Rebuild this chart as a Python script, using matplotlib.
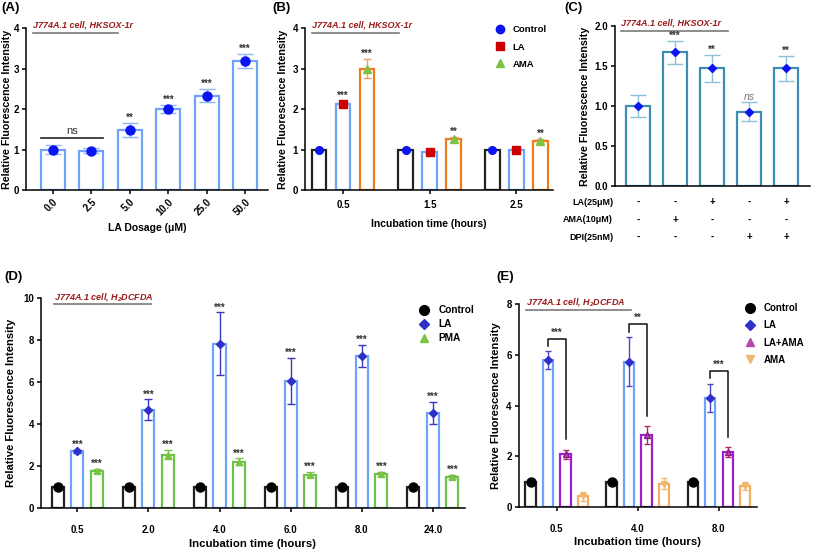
import numpy as np
import matplotlib.pyplot as plt
from matplotlib.transforms import blended_transform_factory

plt.rcParams['font.family'] = ['Liberation Sans', 'DejaVu Sans']
plt.rcParams['font.weight'] = 'bold'
plt.rcParams['axes.labelweight'] = 'bold'
plt.rcParams['axes.linewidth'] = 1.1
plt.rcParams['xtick.major.width'] = 1.1
plt.rcParams['ytick.major.width'] = 1.1
plt.rcParams['xtick.major.size'] = 3
plt.rcParams['ytick.major.size'] = 3
plt.rcParams['xtick.labelsize'] = 7
plt.rcParams['ytick.labelsize'] = 7

# (A) LA dose response
a_doses = ['0.0', '2.5', '5.0', '10.0', '25.0', '50.0']
a_mean = [1.0, 0.97, 1.49, 2.0, 2.33, 3.19]
a_err = [0.1, 0.06, 0.17, 0.1, 0.16, 0.18]
a_sig = ['', '', '**', '***', '***', '***']

# (B) time course, HKSOX-1r
b_times = ['0.5', '1.5', '2.5']
b_control = [1.0, 1.0, 1.0]
b_control_err = [0.03, 0.03, 0.04]
b_la = [2.12, 0.93, 0.99]
b_la_err = [0.08, 0.05, 0.05]
b_ama = [3.0, 1.25, 1.21]
b_ama_err = [0.23, 0.07, 0.06]
b_la_sig = ['***', '', '']
b_ama_sig = ['***', '**', '**']

# (C) inhibitor combos
c_mean = [1.0, 1.67, 1.47, 0.93, 1.47]
c_err = [0.14, 0.14, 0.17, 0.12, 0.16]
c_sig = ['', '***', '**', 'ns', '**']
c_rows = ['LA(25μM)', 'AMA(10μM)', 'DPI(25nM)']
c_la = ['-', '-', '+', '-', '+']
c_ama = ['-', '+', '-', '-', '-']
c_dpi = ['-', '-', '-', '+', '+']

# (D) time course, H2DCFDA
d_times = ['0.5', '2.0', '4.0', '6.0', '8.0', '24.0']
d_control = [1.0, 1.0, 1.0, 1.0, 1.0, 1.0]
d_la = [2.7, 4.67, 7.83, 6.05, 7.25, 4.52]
d_la_err = [0.07, 0.5, 1.48, 1.08, 0.52, 0.53]
d_pma = [1.75, 2.53, 2.21, 1.58, 1.62, 1.47]
d_pma_err = [0.1, 0.22, 0.15, 0.12, 0.1, 0.1]

# (E) LA vs LA+AMA
e_times = ['0.5', '4.0', '8.0']
e_control = [1.0, 1.0, 1.0]
e_la = [5.8, 5.73, 4.3]
e_la_err = [0.34, 0.97, 0.57]
e_laama = [2.09, 2.83, 2.17]
e_laama_err = [0.18, 0.36, 0.2]
e_ama = [0.43, 0.93, 0.83]
e_ama_err = [0.17, 0.2, 0.17]
e_sig = ['***', '**', '***']

DARKRED = '#9b1b1b'
LIGHTBLUE = '#6fa3f7'


def style(ax):
    ax.spines['top'].set_visible(False)
    ax.spines['right'].set_visible(False)
    ax.tick_params(direction='out', pad=2)


def tag(ax, txt, x1, ytxt=1.02):
    # cell line / probe label with grey underline
    ax.text(0.03, ytxt, txt, transform=ax.transAxes, color=DARKRED,
            fontsize=6.5, style='italic', weight='bold', va='center')
    ax.plot([0.03, x1], [0.97, 0.97], transform=ax.transAxes,
            color='#7a7a7a', lw=1.2, clip_on=False)


def bars(ax, x, h, err, w, edge, mk, mcol, ecol, ms, cap, sig=None,
         mec=None, fs=7, lw=1.6):
    ax.bar(x, h, w, facecolor='white', edgecolor=edge, linewidth=lw, zorder=2)
    ax.errorbar(x, h, yerr=err, fmt='none', ecolor=ecol, elinewidth=1.0,
                capsize=cap, capthick=1.0, zorder=3)
    ax.plot(x, h, mk, color=mcol, ms=ms, mec=mec if mec else mcol,
            ls='none', zorder=4)
    if sig:
        for xi, hi, ei, s in zip(x, h, err, sig):
            if s:
                ax.text(xi, hi + ei, s, ha='center', va='bottom',
                        fontsize=fs, color='#333333')


fig = plt.figure(figsize=(8.13, 5.5), dpi=100)

# ---------------- (A)
axA = fig.add_axes([0.032, 0.6545, 0.298, 0.2945])
style(axA)
xa = np.arange(len(a_doses))
bars(axA, xa, a_mean, a_err, 0.62, LIGHTBLUE, 'o', '#0a14f0', '#8fb6f7',
     6.5, 6, a_sig)
axA.plot([xa[0] - 0.3, xa[1] + 0.3], [1.28, 1.28], color='#222222', lw=1.2)
axA.text((xa[0] + xa[1]) / 2, 1.33, 'ns', ha='center', va='bottom',
         fontsize=8, weight='normal', color='#333333')
axA.set_xlim(-0.7, 5.6)
axA.set_ylim(0, 4)
axA.set_yticks([0, 1, 2, 3, 4])
axA.set_xticks(xa)
axA.set_xticklabels(a_doses, rotation=45, ha='right', rotation_mode='anchor')
axA.set_xlabel('LA Dosage (μM)', fontsize=7.5, labelpad=4)
axA.set_ylabel('Relative Fluorescence Intensity', fontsize=7.7, labelpad=1)
tag(axA, 'J774A.1 cell, HKSOX-1r', 0.38)

# ---------------- (B)
axB = fig.add_axes([0.375, 0.6545, 0.305, 0.2945])
style(axB)
xb = np.arange(len(b_times))
off = 0.276
bw = 0.17
bars(axB, xb - off, b_control, b_control_err, bw, '#222222', 'o', '#0a14f0',
     '#999999', 5.5, 3)
bars(axB, xb, b_la, b_la_err, bw, LIGHTBLUE, 's', '#cc0000', '#8fb6f7',
     5.5, 3, b_la_sig)
bars(axB, xb + off, b_ama, b_ama_err, bw, '#ef7c1a', '^', '#7cc243',
     '#f0a060', 5.5, 3, b_ama_sig)
axB.set_xlim(-0.44, 2.42)
axB.set_ylim(0, 4)
axB.set_yticks([0, 1, 2, 3, 4])
axB.set_xticks(xb)
axB.set_xticklabels(b_times)
axB.tick_params(axis='x', pad=4)
axB.set_xlabel('Incubation time (hours)', fontsize=7.5, labelpad=7)
axB.set_ylabel('Relative Fluorescence Intensity', fontsize=7.7, labelpad=3)
tag(axB, 'J774A.1 cell, HKSOX-1r', 0.38)
hB = [axB.plot([], [], m, color=c, ms=6, ls='none')[0]
      for m, c in [('o', '#0a14f0'), ('s', '#cc0000'), ('^', '#7cc243')]]
axB.legend(hB, ['Control', 'LA', 'AMA'], loc='upper left',
           bbox_to_anchor=(0.75, 1.045), frameon=False, fontsize=6.8,
           handlelength=1.0, handletextpad=0.8, labelspacing=0.85,
           borderpad=0)

# ---------------- (C)
axC = fig.add_axes([0.7565, 0.6618, 0.24, 0.291])
style(axC)
xc = np.arange(len(c_mean))
bars(axC, xc, c_mean, c_err, 0.63, '#3e8db3', 'D', '#0a14f0', '#8cc0d8',
     4.5, 5.5)
for xi, hi, ei, s in zip(xc, c_mean, c_err, c_sig):
    if s == 'ns':
        axC.text(xi, hi + ei, s, ha='center', va='bottom', fontsize=7.5,
                 style='italic', weight='normal', color='#777777')
    elif s:
        axC.text(xi, hi + ei, s, ha='center', va='bottom', fontsize=7,
                 color='#333333')
axC.set_xlim(-0.62, 4.65)
axC.set_ylim(0, 2.0)
axC.set_yticks([0, 0.5, 1.0, 1.5, 2.0])
axC.set_yticklabels(['0.0', '0.5', '1.0', '1.5', '2.0'])
axC.set_xticks([])
axC.set_ylabel('Relative Fluorescence Intensity', fontsize=7.7, labelpad=3)
tag(axC, 'J774A.1 cell, HKSOX-1r', 0.58)
trC = blended_transform_factory(axC.transData, axC.transAxes)
for row, signs, yy in zip(c_rows, [c_la, c_ama, c_dpi], [-0.1, -0.21, -0.32]):
    axC.text(-0.01, yy, row, transform=axC.transAxes, ha='right',
             va='center', fontsize=6.5)
    for xi, s in zip(xc, signs):
        axC.text(xi, yy, s, transform=trC, ha='center', va='center',
                 fontsize=7)

# ---------------- (D)
axD = fig.add_axes([0.0504, 0.0764, 0.5215, 0.3818])
style(axD)
xd = np.arange(len(d_times))
off = 0.274
bw = 0.17
bars(axD, xd - off, d_control, [0] * len(xd), bw, '#222222', 'o', 'black',
     'black', 6.5, 0)
bars(axD, xd, d_la, d_la_err, bw, LIGHTBLUE, 'D', '#3030c8', '#3838c0',
     4.5, 3, ['***'] * len(xd))
bars(axD, xd + off, d_pma, d_pma_err, bw, '#6cc24a', '^', '#7cc243',
     '#7cc243', 5, 3, ['***'] * len(xd))
axD.set_xlim(-0.51, 5.45)
axD.set_ylim(0, 10)
axD.set_yticks([0, 2, 4, 6, 8, 10])
axD.set_xticks(xd)
axD.set_xticklabels(d_times)
axD.tick_params(axis='x', pad=9)
axD.set_xlabel('Incubation time (hours)', fontsize=8.2, labelpad=3)
axD.set_ylabel('Relative Fluorescence Intensity', fontsize=8.1, labelpad=5)
tag(axD, 'J774A.1 cell, H$_\\mathregular{2}$DCFDA', 0.26, ytxt=1.005)
hD = [axD.plot([], [], m, color=c, ms=ms, ls='none')[0]
      for m, c, ms in [('o', 'black', 7), ('D', '#3030c8', 5),
                       ('^', '#7cc243', 6)]]
axD.legend(hD, ['Control', 'LA', 'PMA'], loc='upper left',
           bbox_to_anchor=(0.88, 0.99), frameon=False, fontsize=7.3,
           handlelength=1.0, handletextpad=0.9, labelspacing=0.4,
           borderpad=0)

# ---------------- (E)
axE = fig.add_axes([0.638, 0.078, 0.293, 0.369])
style(axE)
xe = np.arange(len(e_times))
step = 0.216
bw = 0.125
bars(axE, xe - 1.5 * step, e_control, [0] * len(xe), bw, '#222222', 'o',
     'black', 'black', 6.5, 0)
bars(axE, xe - 0.5 * step, e_la, e_la_err, bw, LIGHTBLUE, 'D', '#3030c8',
     '#4848c0', 4.5, 2.5)
bars(axE, xe + 0.5 * step, e_laama, e_laama_err, bw, '#9a1fd0', '^',
     '#b04aa8', '#b02a6a', 5, 2.5, mec='#8a1a8a')
bars(axE, xe + 1.5 * step, e_ama, e_ama_err, bw, '#f3ae64', 'v', '#f2b770',
     '#f2b770', 5, 2.5)
for xi, la, lae, lm, lme, s in zip(xe, e_la, e_la_err, e_laama,
                                   e_laama_err, e_sig):
    x1 = xi - 0.5 * step
    x2 = xi + 0.5 * step
    ytop = la + lae + 0.5
    axE.plot([x1, x1, x2, x2], [la + lae + 0.2, ytop, ytop, lm + lme + 0.4],
             color='#111111', lw=1.1)
    axE.text(xi, ytop + 0.05, s, ha='center', va='bottom', fontsize=7,
             color='#333333')
axE.set_xlim(-0.47, 2.47)
axE.set_ylim(0, 8)
axE.set_yticks([0, 2, 4, 6, 8])
axE.set_xticks(xe)
axE.set_xticklabels(e_times)
axE.tick_params(axis='x', pad=9)
axE.set_xlabel('Incubation time (hours)', fontsize=8.2, labelpad=2)
axE.set_ylabel('Relative Fluorescence Intensity', fontsize=8, labelpad=4)
tag(axE, 'J774A.1 cell, H$_\\mathregular{2}$DCFDA', 0.47, ytxt=1.01)
hE = [axE.plot([], [], m, color=c, ms=ms, ls='none')[0]
      for m, c, ms in [('o', 'black', 7), ('D', '#3030c8', 5),
                       ('^', '#b04aa8', 6), ('v', '#f2b770', 6)]]
axE.legend(hE, ['Control', 'LA', 'LA+AMA', 'AMA'], loc='upper left',
           bbox_to_anchor=(0.93, 1.03), frameon=False, fontsize=7,
           handlelength=1.0, handletextpad=0.9, labelspacing=0.75,
           borderpad=0)

# panel letters
for lbl, px, py in [('(A)', 1, 8), ('(B)', 272, 8), ('(C)', 564, 8),
                    ('(D)', 4, 277), ('(E)', 496, 277)]:
    fig.text(px / 813, 1 - py / 550, lbl, fontsize=9.5, weight='bold',
             va='center', ha='left')

fig.savefig('out.png', dpi=100)
